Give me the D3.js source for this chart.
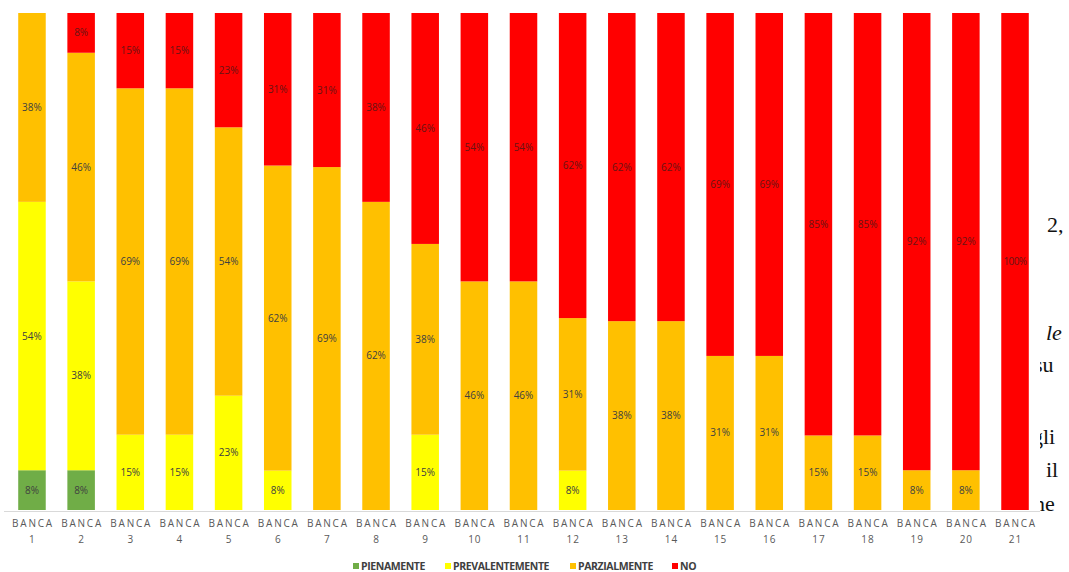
<!DOCTYPE html>
<html>
<head>
<meta charset="utf-8">
<script src="https://cdn.jsdelivr.net/npm/d3@7"></script>
<style>
  html, body { margin: 0; padding: 0; background: #fff; }
  svg { display: block; }
</style>
</head>
<body>
<svg id="chart" width="1069" height="572"></svg>
<script>
// ---- data ----
const categories = ["1","2","3","4","5","6","7","8","9","10","11","12","13","14","15","16","17","18","19","20","21"];
const seriesNames = ["PIENAMENTE", "PREVALENTEMENTE", "PARZIALMENTE", "NO"];
const pienamente      = [8, 8, 0, 0, 0, 0, 0, 0, 0, 0, 0, 0, 0, 0, 0, 0, 0, 0, 0, 0, 0];
const prevalentemente = [54, 38, 15, 15, 23, 8, 0, 0, 15, 0, 0, 8, 0, 0, 0, 0, 0, 0, 0, 0, 0];
const parzialmente    = [38, 46, 69, 69, 54, 62, 69, 62, 38, 46, 46, 31, 38, 38, 31, 31, 15, 15, 8, 8, 0];
const no              = [0, 8, 15, 15, 23, 31, 31, 38, 46, 54, 54, 62, 62, 62, 69, 69, 85, 85, 92, 92, 100];
const seriesColors = ["#70AD47", "#FFFF00", "#FFC000", "#FF0000"];
const seriesValues = [pienamente, prevalentemente, parzialmente, no];

// ---- build table ----
const rows = categories.map((c, i) => {
  const r = { cat: c };
  seriesNames.forEach((s, j) => r[s] = seriesValues[j][i]);
  return r;
});

const svg = d3.select("#chart");

// background document text fragments (behind chart image)
const bg = svg.append("g").attr("font-family", "Liberation Serif, serif").attr("font-size", 22).attr("fill", "#111");
bg.append("text").attr("x", 1047).attr("y", 232).text("2,");
bg.append("text").attr("x", 1046).attr("y", 340).attr("font-style", "italic").text("le");
bg.append("text").attr("x", 1034).attr("y", 372).text("su");
bg.append("text").attr("x", 1032).attr("y", 444).text("gli");
bg.append("text").attr("x", 1046).attr("y", 477).text("il");
bg.append("text").attr("x", 1034).attr("y", 511).text("ne");
// chart image white area covering
svg.append("rect").attr("x", 0).attr("y", 0).attr("width", 1040).attr("height", 572).attr("fill", "#fff");

// ---- scales ----
const x = d3.scaleBand().domain(categories).range([7.4, 1039.6]).paddingInner(0.44).paddingOuter(0.22);
const y = d3.scaleLinear().domain([0, 1]).range([510, 13]);

const stack = d3.stack().keys(seriesNames).offset(d3.stackOffsetExpand);
const stacked = stack(rows);

const color = d3.scaleOrdinal().domain(seriesNames).range(seriesColors);

// bars
const layers = svg.append("g").selectAll("g").data(stacked).join("g").attr("fill", d => color(d.key));
layers.selectAll("rect").data(d => d.map(v => ({ v, key: d.key })))
  .join("rect")
  .attr("x", d => x(d.v.data.cat))
  .attr("width", x.bandwidth())
  .attr("y", d => y(d.v[1]))
  .attr("height", d => Math.max(0, y(d.v[0]) - y(d.v[1])));

// labels
const labels = svg.append("g").attr("font-family", "Open Sans, sans-serif").attr("font-size", 10).attr("text-anchor", "middle");
stacked.forEach(layer => {
  layer.forEach(v => {
    const val = v.data[layer.key];
    if (!val) return;
    labels.append("text")
      .attr("x", x(v.data.cat) + x.bandwidth() / 2)
      .attr("y", (y(v[0]) + y(v[1])) / 2)
      .attr("dy", "0.35em")
      .attr("fill", layer.key === "NO" ? "#6a1414" : "#404040")
      .attr("letter-spacing", val === 100 ? "-0.6px" : "0")
      .text(val + "%");
  });
});

// axis
const axis = d3.axisBottom(x).tickSize(0).tickFormat("");
const ax = svg.append("g").attr("transform", "translate(0,511)").call(axis);
ax.select(".domain").attr("stroke", "#d9d9d9").attr("d", "M4,0.5H1040");

const tl = svg.append("g").attr("font-family", "Open Sans, sans-serif").attr("font-size", 10).attr("fill", "#595959").attr("text-anchor", "middle");
categories.forEach(c => {
  const cx = x(c) + x.bandwidth() / 2;
  tl.append("text").attr("x", cx + 1).attr("y", 527).attr("letter-spacing", "1.8px").text("BANCA");
  tl.append("text").attr("x", cx + 0.5).attr("y", 543).attr("letter-spacing", "1px").text(c);
});

// legend
const legendX = [353, 445, 570, 672];
const lg = svg.append("g").attr("font-family", "Open Sans, sans-serif").attr("font-size", 10.5).attr("font-weight", "bold").attr("fill", "#404040");
seriesNames.forEach((s, i) => {
  lg.append("rect").attr("x", legendX[i]).attr("y", 563).attr("width", 6).attr("height", 6).attr("fill", color(s));
  lg.append("text").attr("x", legendX[i] + 8).attr("y", 570).attr("letter-spacing", "-0.4px").text(s);
});
</script>
</body>
</html>
